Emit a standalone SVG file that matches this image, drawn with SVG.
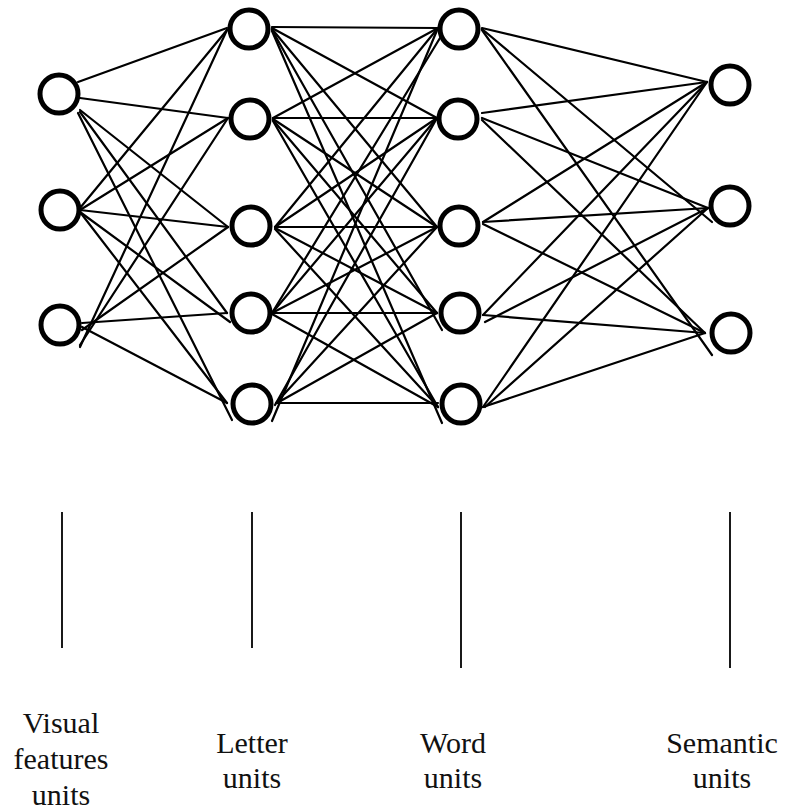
<svg xmlns="http://www.w3.org/2000/svg" width="786" height="810" viewBox="0 0 786 810">
<style>
.unit{fill:#fff;stroke:#000;stroke-width:5}
.edge{stroke:#000;stroke-width:2.2;fill:none;stroke-linecap:round}
.tick{stroke:#000;stroke-width:1.8}
text.lbl{font-family:"Liberation Serif","DejaVu Serif","Times New Roman",serif;font-size:30px;fill:#111;text-anchor:middle}
</style>
<rect width="786" height="810" fill="#fff"/>
<g id="connectors">
<g id="visual-letter">
<line class="edge" x1="78" y1="82" x2="227" y2="28"/>
<line class="edge" x1="80" y1="98" x2="228" y2="118"/>
<line class="edge" x1="80" y1="110" x2="228" y2="227"/>
<line class="edge" x1="80" y1="112" x2="227" y2="313"/>
<line class="edge" x1="78" y1="113" x2="232" y2="420"/>
<line class="edge" x1="80" y1="208" x2="227" y2="30"/>
<line class="edge" x1="80" y1="210" x2="228" y2="118"/>
<line class="edge" x1="80" y1="210" x2="228" y2="227"/>
<line class="edge" x1="80" y1="212" x2="230" y2="322"/>
<line class="edge" x1="80" y1="212" x2="227" y2="403"/>
<line class="edge" x1="80" y1="347" x2="227" y2="30"/>
<line class="edge" x1="80" y1="345" x2="228" y2="118"/>
<line class="edge" x1="82" y1="330" x2="228" y2="227"/>
<line class="edge" x1="82" y1="323" x2="227" y2="313"/>
<line class="edge" x1="82" y1="327" x2="227" y2="403"/>
</g>
<g id="letter-word">
<line class="edge" x1="272" y1="27" x2="438" y2="28"/>
<line class="edge" x1="272" y1="28" x2="437" y2="118"/>
<line class="edge" x1="272" y1="29" x2="437" y2="227"/>
<line class="edge" x1="272" y1="30" x2="442" y2="330"/>
<line class="edge" x1="272" y1="31" x2="442" y2="423"/>
<line class="edge" x1="273" y1="118" x2="438" y2="28"/>
<line class="edge" x1="273" y1="118" x2="437" y2="118"/>
<line class="edge" x1="273" y1="119" x2="437" y2="227"/>
<line class="edge" x1="273" y1="120" x2="437" y2="313"/>
<line class="edge" x1="273" y1="121" x2="438" y2="407"/>
<line class="edge" x1="275" y1="227" x2="438" y2="28"/>
<line class="edge" x1="275" y1="227" x2="437" y2="118"/>
<line class="edge" x1="275" y1="227" x2="437" y2="227"/>
<line class="edge" x1="275" y1="228" x2="437" y2="313"/>
<line class="edge" x1="275" y1="229" x2="438" y2="407"/>
<line class="edge" x1="272" y1="313" x2="440" y2="38"/>
<line class="edge" x1="272" y1="313" x2="437" y2="118"/>
<line class="edge" x1="272" y1="313" x2="437" y2="227"/>
<line class="edge" x1="272" y1="313" x2="437" y2="313"/>
<line class="edge" x1="272" y1="314" x2="438" y2="407"/>
<line class="edge" x1="272" y1="421" x2="438" y2="28"/>
<line class="edge" x1="275" y1="405" x2="437" y2="118"/>
<line class="edge" x1="276" y1="403" x2="437" y2="227"/>
<line class="edge" x1="277" y1="403" x2="437" y2="313"/>
<line class="edge" x1="277" y1="403" x2="438" y2="403"/>
</g>
<g id="word-semantic">
<line class="edge" x1="482" y1="28" x2="707" y2="82"/>
<line class="edge" x1="482" y1="29" x2="712" y2="222"/>
<line class="edge" x1="482" y1="30" x2="712" y2="355"/>
<line class="edge" x1="482" y1="113" x2="707" y2="82"/>
<line class="edge" x1="482" y1="118" x2="708" y2="208"/>
<line class="edge" x1="482" y1="120" x2="705" y2="333"/>
<line class="edge" x1="483" y1="222" x2="707" y2="82"/>
<line class="edge" x1="483" y1="222" x2="708" y2="208"/>
<line class="edge" x1="483" y1="224" x2="705" y2="333"/>
<line class="edge" x1="483" y1="315" x2="707" y2="82"/>
<line class="edge" x1="483" y1="315" x2="705" y2="333"/>
<line class="edge" x1="485" y1="322" x2="708" y2="208"/>
<line class="edge" x1="483" y1="407" x2="707" y2="82"/>
<line class="edge" x1="485" y1="407" x2="708" y2="208"/>
<line class="edge" x1="483" y1="407" x2="705" y2="333"/>
</g>
<g id="ticks">
<line class="tick" x1="62" y1="512" x2="62" y2="648"/>
<line class="tick" x1="252" y1="512" x2="252" y2="648"/>
<line class="tick" x1="461" y1="512" x2="461" y2="668"/>
<line class="tick" x1="730" y1="512" x2="730" y2="668"/>
</g>
</g>
<g id="node-v1"><circle class="unit" cx="59" cy="94" r="19"/></g>
<g id="node-v2"><circle class="unit" cx="60" cy="210" r="19"/></g>
<g id="node-v3"><circle class="unit" cx="60" cy="325" r="19"/></g>
<g id="node-l1"><circle class="unit" cx="249" cy="29" r="19"/></g>
<g id="node-l2"><circle class="unit" cx="250" cy="119" r="19"/></g>
<g id="node-l3"><circle class="unit" cx="251" cy="226" r="19"/></g>
<g id="node-l4"><circle class="unit" cx="251" cy="313" r="19"/></g>
<g id="node-l5"><circle class="unit" cx="252" cy="404" r="19"/></g>
<g id="node-w1"><circle class="unit" cx="459" cy="29" r="19"/></g>
<g id="node-w2"><circle class="unit" cx="458" cy="119" r="19"/></g>
<g id="node-w3"><circle class="unit" cx="459" cy="226" r="19"/></g>
<g id="node-w4"><circle class="unit" cx="460" cy="313" r="19"/></g>
<g id="node-w5"><circle class="unit" cx="461" cy="404" r="19"/></g>
<g id="node-s1"><circle class="unit" cx="730" cy="85" r="19"/></g>
<g id="node-s2"><circle class="unit" cx="730" cy="206" r="19"/></g>
<g id="node-s3"><circle class="unit" cx="731" cy="333" r="19"/></g>
<g id="labels">
<text class="lbl" x="61" y="733" style="font-family:'Liberation Serif',serif">Visual</text>
<text class="lbl" x="61" y="769" style="font-family:'Liberation Serif',serif">features</text>
<text class="lbl" x="61" y="805" style="font-family:'Liberation Serif',serif">units</text>
<text class="lbl" x="252" y="753" style="font-family:'Liberation Serif',serif">Letter</text>
<text class="lbl" x="252" y="788" style="font-family:'Liberation Serif',serif">units</text>
<text class="lbl" x="453" y="753" style="font-family:'Liberation Serif',serif">Word</text>
<text class="lbl" x="453" y="788" style="font-family:'Liberation Serif',serif">units</text>
<text class="lbl" x="722" y="753" style="font-family:'Liberation Serif',serif">Semantic</text>
<text class="lbl" x="722" y="788" style="font-family:'Liberation Serif',serif">units</text>
</g>
</svg>
